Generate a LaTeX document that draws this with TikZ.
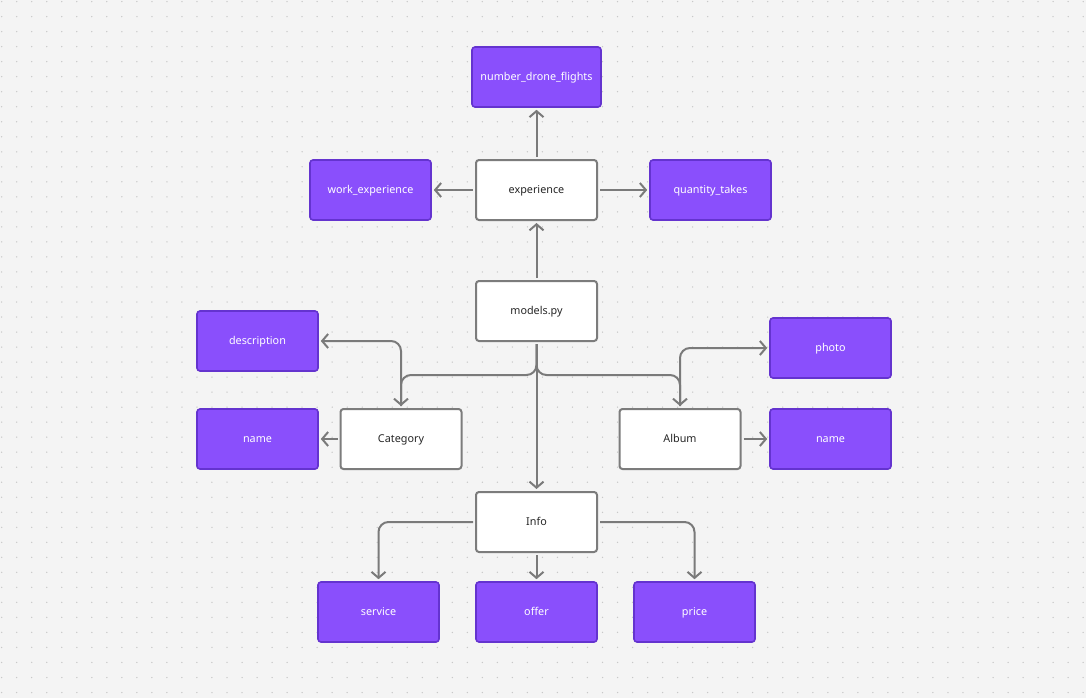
\documentclass[tikz,border=0pt]{standalone}
\usepackage{fontspec}
\setmainfont{Noto Sans}
\usetikzlibrary{arrows.meta}
\definecolor{bgc}{HTML}{F4F4F4}
\definecolor{dotc}{HTML}{C8C8C8}
\definecolor{pfill}{HTML}{8A4FFC}
\definecolor{pdraw}{HTML}{6433CF}
\definecolor{wdraw}{HTML}{7C7C7C}
\definecolor{linec}{HTML}{7A7A7A}
\definecolor{txtc}{HTML}{262626}
\tikzset{
  boxtext/.style={font=\fontsize{10.8}{13}\selectfont, inner sep=0pt, text height=0.72em, text depth=0pt},
  pbox/.style={draw=pdraw, line width=1.6pt, fill=pfill, rounded corners=3pt,
    minimum width=121pt, minimum height=60pt, text=white, boxtext},
  wbox/.style={draw=wdraw, line width=2pt, fill=white, rounded corners=3pt,
    minimum width=121pt, minimum height=60pt, text=txtc, boxtext},
  arr/.style={draw=linec, line width=2pt, -{Straight Barb[length=6pt,width=14pt,line width=2pt]},
    shorten >=2pt, shorten <=2pt},
  rc/.style={rounded corners=10pt}
}
\begin{document}
\begin{tikzpicture}[x=1pt,y=-1pt]
\useasboundingbox (0,0) rectangle (1086,698);
\fill[bgc] (0,0) rectangle (1086,698);
\foreach \i in {0,...,72}{
  \foreach \j in {0,...,46}{
    \fill[dotc] (1.7+15.02*\i, 1.6+15.02*\j) circle (0.75);
  }
}
% nodes
\node[pbox, minimum width=129pt] (ndf) at (536.5,77) {number\_drone\_flights};
\node[wbox] (exp) at (536.5,190) {experience};
\node[pbox] (work) at (370.5,190) {work\_experience};
\node[pbox] (qt) at (710.5,190) {quantity\_takes};
\node[wbox] (models) at (536.5,311) {models.py};
\node[pbox] (desc) at (257.5,341) {description};
\node[wbox] (cat) at (401,439) {Category};
\node[pbox] (name1) at (257.5,439) {name};
\node[wbox] (album) at (680,439) {Album};
\node[pbox] (photo) at (830.5,348) {photo};
\node[pbox] (name2) at (830.5,439) {name};
\node[wbox] (info) at (536.5,522) {Info};
\node[pbox] (service) at (378.5,612) {service};
\node[pbox] (offer) at (536.5,612) {offer};
\node[pbox] (price) at (694.5,612) {price};
\coordinate (split) at (536.5,375);
% connectors
\draw[arr] (exp.north) -- (ndf.south);
\draw[arr] (exp.west) -- (work.east);
\draw[arr] (exp.east) -- (qt.west);
\draw[arr] (models.north) -- (exp.south);
\draw[arr] (models.south) -- (info.north);
\draw[arr, rc] (models.south) -- (split) -| (cat.north);
\draw[arr, rc] (models.south) -- (split) -| (album.north);
\draw[arr, rc] (cat.north) |- (desc.east);
\draw[arr] (cat.west) -- (name1.east);
\draw[arr, rc] (album.north) |- (photo.west);
\draw[arr] (album.east) -- (name2.west);
\draw[arr, rc] (info.west) -| (service.north);
\draw[arr] (info.south) -- (offer.north);
\draw[arr, rc] (info.east) -| (price.north);
\end{tikzpicture}
\end{document}
